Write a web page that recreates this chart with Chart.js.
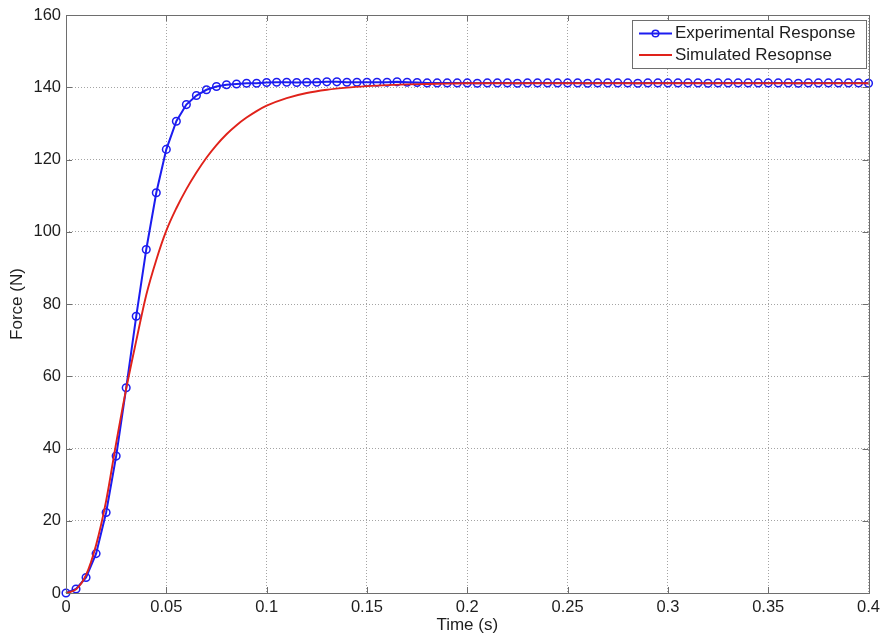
<!DOCTYPE html>
<html>
<head>
<meta charset="utf-8">
<script src="https://cdn.jsdelivr.net/npm/chart.js@4/dist/chart.umd.min.js"></script>
<style>
  html, body { margin: 0; padding: 0; background: #fff; }
  #wrap { width: 885px; height: 639px; }
</style>
</head>
<body>
<div id="wrap"><canvas id="forceChart" width="885" height="639"></canvas></div>
<script>
  // measured every 5 ms, 0 .. 0.4 s
  const expTime = [
    0, 0.005, 0.01, 0.015, 0.02, 0.025, 0.03, 0.035, 0.04, 0.045,
    0.05, 0.055, 0.06, 0.065, 0.07, 0.075, 0.08, 0.085, 0.09, 0.095,
    0.1, 0.105, 0.11, 0.115, 0.12, 0.125, 0.13, 0.135, 0.14, 0.145,
    0.15, 0.155, 0.16, 0.165, 0.17, 0.175, 0.18, 0.185, 0.19, 0.195,
    0.2, 0.205, 0.21, 0.215, 0.22, 0.225, 0.23, 0.235, 0.24, 0.245,
    0.25, 0.255, 0.26, 0.265, 0.27, 0.275, 0.28, 0.285, 0.29, 0.295,
    0.3, 0.305, 0.31, 0.315, 0.32, 0.325, 0.33, 0.335, 0.34, 0.345,
    0.35, 0.355, 0.36, 0.365, 0.37, 0.375, 0.38, 0.385, 0.39, 0.395, 0.4,
  ];
  const expForce = [
    0, 1.1, 4.3, 10.9, 22.3, 37.9, 56.8, 76.6, 95.1, 110.8,
    122.8, 130.6, 135.2, 137.7, 139.3, 140.2, 140.7, 140.9, 141.1, 141.1,
    141.3, 141.4, 141.4, 141.3, 141.4, 141.4, 141.5, 141.5, 141.4, 141.4,
    141.4, 141.4, 141.4, 141.5, 141.4, 141.3, 141.2, 141.2, 141.2, 141.2,
    141.2, 141.1, 141.2, 141.2, 141.2, 141.1, 141.2, 141.2, 141.2, 141.2,
    141.2, 141.2, 141.1, 141.2, 141.2, 141.2, 141.2, 141.1, 141.2, 141.2,
    141.2, 141.2, 141.2, 141.2, 141.1, 141.2, 141.2, 141.2, 141.2, 141.2,
    141.2, 141.2, 141.2, 141.1, 141.2, 141.2, 141.2, 141.2, 141.2, 141.2, 141.1,
  ];

  // simulated curve
  const simTime = [
    0, 0.005, 0.01, 0.015, 0.02, 0.025, 0.03, 0.035, 0.04, 0.045,
    0.05, 0.055, 0.06, 0.065, 0.07, 0.075, 0.08, 0.085, 0.09, 0.095,
    0.1, 0.11, 0.12, 0.13, 0.14, 0.15, 0.16, 0.17, 0.18, 0.19,
    0.2, 0.25, 0.3, 0.35, 0.4,
  ];
  const simForce = [
    0, 1.0, 5.0, 13.3, 25.5, 41.5, 56.5, 69.8, 82.5, 92.2,
    100.3, 106.5, 111.8, 116.4, 120.5, 124.0, 127.0, 129.5, 131.6, 133.4,
    134.9, 137.0, 138.4, 139.3, 139.9, 140.3, 140.6, 140.8, 140.9, 141.0,
    141.1, 141.1, 141.1, 141.1, 141.1,
  ];

  const xTicks = [0, 0.05, 0.1, 0.15, 0.2, 0.25, 0.3, 0.35, 0.4];
  const xTickLabels = ["0", "0.05", "0.1", "0.15", "0.2", "0.25", "0.3", "0.35", "0.4"];
  const yTicks = [0, 20, 40, 60, 80, 100, 120, 140, 160];

  const seriesNames = ["Experimental Response", "Simulated Resopnse"];
  const blue = "#1c1cf0";
  const red = "#e0221a";
  const fontFamily = "'Liberation Sans', Arial, sans-serif";
  const textColor = "#1e1e1e";

  // box, inward ticks and legend like the matlab figure
  const matlabFrame = {
    id: "matlabFrame",
    afterDraw(chart) {
      const { ctx, chartArea } = chart;
      const { left, right, top, bottom } = chartArea;
      const xs = chart.scales.x;
      const ys = chart.scales.y;
      const tick = 6;

      ctx.save();
      ctx.strokeStyle = "#6e6e6e";
      ctx.lineWidth = 1;
      ctx.beginPath();
      xTicks.forEach((v) => {
        const px = Math.round(xs.getPixelForValue(v)) + 0.5;
        ctx.moveTo(px, bottom);
        ctx.lineTo(px, bottom - tick);
        ctx.moveTo(px, top);
        ctx.lineTo(px, top + tick);
      });
      yTicks.forEach((v) => {
        const py = Math.round(ys.getPixelForValue(v)) + 0.5;
        ctx.moveTo(left, py);
        ctx.lineTo(left + tick, py);
        ctx.moveTo(right, py);
        ctx.lineTo(right - tick, py);
      });
      ctx.stroke();
      ctx.strokeRect(Math.round(left) + 0.5, Math.round(top) + 0.5,
        Math.round(right - left), Math.round(bottom - top));

      // legend
      const lx = 632, ly = 20, lw = 234, lh = 48;
      ctx.fillStyle = "#fff";
      ctx.fillRect(lx, ly, lw, lh);
      ctx.strokeStyle = "#6e6e6e";
      ctx.strokeRect(lx + 0.5, ly + 0.5, lw, lh);

      ctx.font = "17px " + fontFamily;
      ctx.textBaseline = "middle";
      ctx.fillStyle = textColor;

      const rows = [ly + 13.5, ly + 35];
      ctx.lineWidth = 2;
      ctx.strokeStyle = blue;
      ctx.beginPath();
      ctx.moveTo(639, rows[0]);
      ctx.lineTo(672, rows[0]);
      ctx.stroke();
      ctx.lineWidth = 1.5;
      ctx.beginPath();
      ctx.arc(655.5, rows[0], 3.3, 0, Math.PI * 2);
      ctx.stroke();

      ctx.lineWidth = 1.9;
      ctx.strokeStyle = red;
      ctx.beginPath();
      ctx.moveTo(639, rows[1]);
      ctx.lineTo(672, rows[1]);
      ctx.stroke();

      ctx.fillText(seriesNames[0], 675, rows[0]);
      ctx.fillText(seriesNames[1], 675, rows[1]);
      ctx.restore();
    },
  };

  const ctx = document.getElementById("forceChart").getContext("2d");
  const forceChart = new Chart(ctx, {
    type: "scatter",
    data: {
      datasets: [
        {
          label: seriesNames[0],
          data: expTime.map((t, i) => ({ x: t, y: expForce[i] })),
          showLine: true,
          borderColor: blue,
          borderWidth: 2,
          pointRadius: 3.8,
          pointBorderWidth: 1.5,
          pointBackgroundColor: "rgba(0,0,0,0)",
          pointBorderColor: blue,
          tension: 0,
          clip: false,
          order: 1,
        },
        {
          label: seriesNames[1],
          data: simTime.map((t, i) => ({ x: t, y: simForce[i] })),
          showLine: true,
          borderColor: red,
          borderWidth: 1.9,
          pointRadius: 0,
          cubicInterpolationMode: "monotone",
          clip: false,
          order: 0,
        },
      ],
    },
    options: {
      responsive: false,
      animation: false,
      devicePixelRatio: 1,
      layout: { padding: { left: 0, right: 15, top: 15, bottom: 0 } },
      plugins: {
        legend: { display: false },
        tooltip: { enabled: false },
      },
      scales: {
        x: {
          type: "linear",
          min: 0,
          max: 0.4,
          afterFit: (scale) => { scale.height = 46; },
          afterBuildTicks: (scale) => { scale.ticks = xTicks.map((v) => ({ value: v })); },
          ticks: {
            padding: 5,
            color: textColor,
            font: { family: fontFamily, size: 16.5 },
            maxRotation: 0,
            callback: (v, i) => xTickLabels[i],
          },
          grid: { color: "rgba(90,90,90,0.55)", drawTicks: false, lineWidth: 1 },
          border: { display: false, dash: [1, 2] },
          title: {
            display: true,
            text: "Time (s)",
            color: textColor,
            font: { family: fontFamily, size: 17 },
            padding: { top: 0, bottom: 3 },
          },
        },
        y: {
          min: 0,
          max: 160,
          afterFit: (scale) => { scale.width = 66; },
          afterBuildTicks: (scale) => { scale.ticks = yTicks.map((v) => ({ value: v })); },
          ticks: {
            padding: 5,
            color: textColor,
            font: { family: fontFamily, size: 16.5 },
          },
          grid: { color: "rgba(90,90,90,0.55)", drawTicks: false, lineWidth: 1 },
          border: { display: false, dash: [1, 2] },
          title: {
            display: true,
            text: "Force (N)",
            color: textColor,
            font: { family: fontFamily, size: 17 },
            padding: { top: 7, bottom: 0 },
          },
        },
      },
    },
    plugins: [matlabFrame],
  });
</script>
</body>
</html>
